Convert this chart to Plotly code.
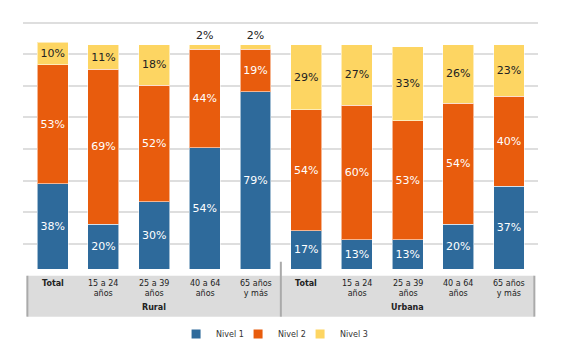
import plotly.graph_objects as go

categories = ["Total", "15 a 24<br>años", "25 a 39<br>años", "40 a 64<br>años", "65 años<br>y más",
              "Total", "15 a 24<br>años", "25 a 39<br>años", "40 a 64<br>años", "65 años<br>y más"]
groups = ["Rural", "Urbana"]
group_size = 5

nivel1 = [38, 20, 30, 54, 79, 17, 13, 13, 20, 37]
nivel2 = [53, 69, 52, 44, 19, 54, 60, 53, 54, 40]
nivel3 = [10, 11, 18, 2, 2, 29, 27, 33, 26, 23]

series_names = ["Nivel 1", "Nivel 2", "Nivel 3"]
series_values = [nivel1, nivel2, nivel3]
colors = ["#2e6a9b", "#e85c0d", "#fdd562"]
text_colors = ["white", "white", "#222222"]

grid_values = [11.1, 25.2, 39.3, 53.4, 67.6, 81.6, 95.7, 109.8]

FONT = "DejaVu Sans"
x_idx = list(range(len(categories)))

fig = go.Figure()
for name, vals, col, tcol in zip(series_names, series_values, colors, text_colors):
    pos = ["outside" if v < 5 else "inside" for v in vals]
    fig.add_trace(go.Bar(
        x=x_idx, y=vals, name=name, width=0.61,
        marker=dict(color=col, line=dict(color="rgba(255,255,255,0.55)", width=1)),
        text=[f"{v}%" for v in vals], textposition=pos,
        insidetextanchor="middle", constraintext="none",
        insidetextfont=dict(family=FONT, size=11, color=tcol),
        outsidetextfont=dict(family=FONT, size=11, color="#222222"),
        cliponaxis=False, showlegend=False, hoverinfo="skip",
    ))
for name, col in zip(series_names, colors):
    fig.add_trace(go.Scatter(
        x=[None], y=[None], mode="markers", name=name,
        marker=dict(symbol="square", size=9, color=col), showlegend=True,
    ))
# invisible spacer entry so the last legend label is not clipped
fig.add_trace(go.Scatter(x=[None], y=[None], mode="markers", name=" ",
                         marker=dict(size=1, color="rgba(0,0,0,0)"), showlegend=True,
                         hoverinfo="skip"))

# category labels
for i, c in enumerate(categories):
    lab = f"<b>{c}</b>" if c == "Total" else c
    fig.add_annotation(x=i, y=-0.03, xref="x", yref="paper", text=lab, showarrow=False,
                       yanchor="top", xanchor="center",
                       font=dict(family=FONT, size=8, color="#222222"))
# group labels
for g, gname in enumerate(groups):
    center = g * group_size + (group_size - 1) / 2
    fig.add_annotation(x=center, y=-0.147, xref="x", yref="paper", text=f"<b>{gname}</b>",
                       showarrow=False, yanchor="middle", xanchor="center",
                       font=dict(family=FONT, size=8, color="#222222"))

n = len(categories)
shapes = [
    dict(type="rect", xref="x", yref="paper", x0=-0.5, x1=n - 0.5, y0=-0.184, y1=-0.026,
         fillcolor="#dcdcdc", line=dict(width=0), layer="below"),
    dict(type="line", xref="x", yref="paper", x0=-0.5, x1=-0.5, y0=-0.184, y1=-0.026,
         line=dict(color="#aaaaaa", width=2)),
    dict(type="line", xref="x", yref="paper", x0=n - 0.5, x1=n - 0.5, y0=-0.184, y1=-0.026,
         line=dict(color="#aaaaaa", width=2)),
    dict(type="line", xref="x", yref="paper", x0=group_size - 0.5, x1=group_size - 0.5,
         y0=-0.184, y1=0.028, line=dict(color="#aaaaaa", width=2)),
]

fig.update_layout(
    width=559, height=349,
    margin=dict(l=15, r=29, t=2, b=88),
    barmode="stack",
    paper_bgcolor="white", plot_bgcolor="white",
    font=dict(family=FONT, color="#222222"),
    shapes=shapes,
    xaxis=dict(range=[-0.586, 9.572], showticklabels=False, showgrid=False, zeroline=False,
               showline=False, ticks=""),
    yaxis=dict(range=[0, 115.47], tickvals=grid_values, showticklabels=False, showgrid=True,
               gridcolor="#dedede", gridwidth=1.5, zeroline=False, showline=False, ticks=""),
    legend=dict(orientation="h", x=0.538, xanchor="center", y=-0.251, yanchor="middle",
                traceorder="normal",
                font=dict(family=FONT, size=8, color="#333333"), itemwidth=30,
                entrywidth=17, entrywidthmode="pixels",
                bgcolor="rgba(0,0,0,0)"),
)

fig.write_html("out.html")
